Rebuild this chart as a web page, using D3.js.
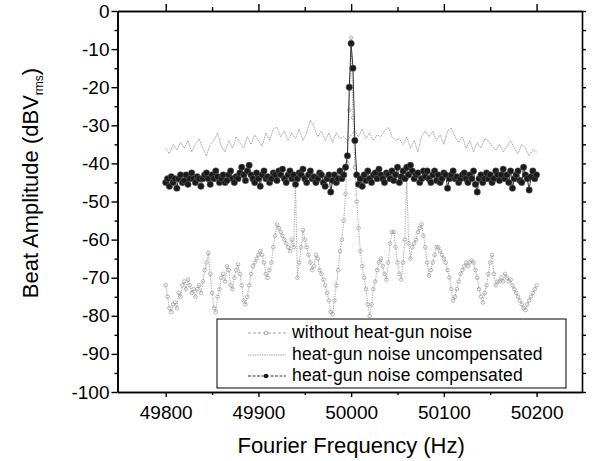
<!DOCTYPE html>
<html>
<head>
<meta charset="utf-8">
<script src="https://cdn.jsdelivr.net/npm/d3@7"></script>
<style>
  body { margin: 0; background: #fff; }
  svg { font-family: "Liberation Sans", Arial, sans-serif; }
</style>
</head>
<body>
<svg id="drawing_region"></svg>
<script>
// Fourier frequency grids (Hz)
const freqStart = 49800;
const fineStep = 2;    // grid for withoutNoise and compensated
const coarseStep = 4;  // grid for uncompensated

// without heat-gun noise (dBVrms), 49800..50200 step 2
const withoutNoise = [
  -72, -75, -78, -79, -77, -76.5, -78, -74, -75, -72,
  -71, -73, -70.5, -72, -74, -73, -75, -73, -72, -74,
  -71, -68, -66, -63.5, -69, -74, -78, -79, -75, -73,
  -70, -69, -71, -67, -68, -72, -73, -70, -68, -66.5,
  -69, -72, -76, -77, -75, -72, -69, -67, -66, -65,
  -64, -63, -64, -66, -69, -70, -68, -66, -62, -59,
  -56, -57, -58, -59, -60, -61, -62, -63, -60, -62,
  -45, -70, -66, -62, -57.5, -60, -62, -64, -66, -68,
  -67, -64, -65, -68, -69, -70.5, -72, -74, -76, -79,
  -79.5, -76, -72, -68, -63, -60, -55, -48, -40, -26,
  -7, -28, -41, -50, -57, -63, -67, -70, -73, -77,
  -80, -77, -73, -71, -68, -66, -65, -67, -69, -70.5,
  -66, -61, -58, -58, -62, -66, -69, -70.5, -66, -60,
  -44, -61, -65, -62, -61, -60, -58, -57, -56, -59,
  -62, -66, -69.5, -68, -66, -64, -62, -62, -63, -64,
  -65, -66, -68, -70, -73, -76, -75, -73, -71, -69,
  -68, -67, -66, -67, -66, -65.5, -66, -68, -70, -73,
  -75, -76.5, -74, -72, -69, -66, -64, -69, -72, -71,
  -71, -70, -71, -69, -70, -71, -70.5, -72, -73, -74,
  -75, -76, -77, -78, -78.5, -77, -76, -75, -74, -73,
  -72
];

// heat-gun noise uncompensated (dBVrms), 49800..50200 step 4
const uncompensated = [
  -36, -37.5, -35, -36.5, -34.5, -36, -34, -37, -35, -33.5,
  -36, -38, -35, -34, -32, -35.5, -37, -34, -36, -33,
  -34.5, -36, -33, -35, -32.5, -34, -35.5, -32, -34, -31,
  -30.5, -33, -31.5, -34, -32, -33.5, -31, -34, -32, -28.6,
  -30.5, -33, -31.5, -34, -32, -34.5, -32, -33.5, -33, -34,
  -32.5, -31.5, -33, -31, -33.5, -32, -34, -32.5, -33, -31.5,
  -30.5, -33, -34, -33.5, -35, -33, -36, -34, -37, -33,
  -31.5, -33, -31.5, -34, -32.5, -35, -31.5, -30.7, -33, -34.5,
  -33, -36, -34, -37, -34.5, -36, -33.5, -34, -35.5, -36.5,
  -35, -37, -35.5, -34, -36, -37.5, -35, -36, -38, -36.5,
  -37
];

// heat-gun noise compensated (dBVrms), 49800..50200 step 2
const compensated = [
  -45, -44, -46, -43.5, -45, -44, -46.5, -44, -43, -45,
  -44.5, -43, -45.5, -44, -42.5, -44, -45, -43.5, -44, -46,
  -44, -43, -42.5, -44, -45.5, -43, -44, -42, -43.5, -45,
  -44, -43, -45, -44.5, -43, -42, -44, -45, -43.5, -44,
  -42.5, -41, -43, -44.5, -42, -40.5, -43, -44, -45, -42.5,
  -44, -46, -43, -42, -44, -43.5, -45, -44, -42.5, -43,
  -44.5, -42, -43, -41.5, -44, -45, -43, -42, -44, -43,
  -45.5, -44, -42.5, -43, -41.5, -44, -45, -43, -42, -44,
  -43.5, -45, -44, -42.5, -43, -45, -46, -44, -43, -47.5,
  -44.5, -43, -45, -44, -42, -44, -43, -41, -38, -20,
  -8.5, -15, -34, -43, -45.5, -44, -46, -43, -44.5, -42,
  -44, -45, -43, -42.5, -44, -41.5, -43, -44, -45, -42.5,
  -43, -44, -42, -44.5, -43, -41, -45, -43.5, -42, -44,
  -41, -43, -40.5, -42, -44, -43, -42.5, -45, -44, -42,
  -43.5, -42, -44, -45, -43, -42, -44.5, -43, -45, -44,
  -42.5, -43, -46.5, -44, -43, -42, -44, -43.5, -45, -44,
  -43, -42.5, -44, -45, -43, -44, -42, -45.5, -47.5, -44,
  -43, -45, -44, -42.5, -44, -43, -45, -44, -42, -43,
  -44.5, -43, -41.5, -44, -43, -45, -42, -46.5, -44, -43,
  -42, -44.5, -45, -41, -43, -44, -47, -43.5, -42, -44,
  -43
];

const xTicks = [49800, 49900, 50000, 50100, 50200];
const xMinorTicks = [49850, 49950, 50050, 50150];
const yTicks = [0, -10, -20, -30, -40, -50, -60, -70, -80, -90, -100];
const yMinorTicks = [-5, -15, -25, -35, -45, -55, -65, -75, -85, -95];

const legendLabels = [
  'without heat-gun noise',
  'heat-gun noise uncompensated',
  'heat-gun noise compensated'
];

const config = {
  width: 597,
  height: 461,
  margin: {top: 11, right: 15, bottom: 69, left: 117.5}
};

const svg = d3.select('#drawing_region')
  .attr('width', config.width)
  .attr('height', config.height);

const inner_width = config.width - config.margin.left - config.margin.right;
const inner_height = config.height - config.margin.top - config.margin.bottom;

const chart = svg.append('g')
  .attr('transform', `translate(${config.margin.left}, ${config.margin.top})`);

const xscale = d3.scaleLinear()
  .domain([49748, 50249])
  .range([0, inner_width]);

const yscale = d3.scaleLinear()
  .domain([-100, 0])
  .range([inner_height, 0]);

const fine = withoutNoise.map((v, i) => ({f: freqStart + i * fineStep, v: v}));
const comp = compensated.map((v, i) => ({f: freqStart + i * fineStep, v: v}));
const uncomp = uncompensated.map((v, i) => ({f: freqStart + i * coarseStep, v: v}));

const line = d3.line()
  .x(d => xscale(d.f))
  .y(d => yscale(d.v));

// without heat-gun noise: dotted grey with open circles
chart.append('path')
  .datum(fine)
  .attr('fill', 'none')
  .attr('stroke', '#8a8a8a')
  .attr('stroke-width', 0.8)
  .attr('stroke-dasharray', '1.2,1.2')
  .attr('d', line);

chart.append('g')
  .selectAll('circle')
  .data(fine)
  .join('circle')
  .attr('cx', d => xscale(d.f))
  .attr('cy', d => yscale(d.v))
  .attr('r', 1.8)
  .attr('fill', 'none')
  .attr('stroke', '#8a8a8a')
  .attr('stroke-width', 0.6);

// uncompensated: thin light grey line
chart.append('path')
  .datum(uncomp)
  .attr('fill', 'none')
  .attr('stroke', '#8f8f8f')
  .attr('stroke-width', 0.8)
  .attr('stroke-dasharray', '1.5,0.8')
  .attr('d', line);

// compensated: black line with filled markers
chart.append('path')
  .datum(comp)
  .attr('fill', 'none')
  .attr('stroke', '#333')
  .attr('stroke-width', 1)
  .attr('d', line);

chart.append('g')
  .selectAll('circle')
  .data(comp)
  .join('circle')
  .attr('cx', d => xscale(d.f))
  .attr('cy', d => yscale(d.v))
  .attr('r', 3.2)
  .attr('fill', '#1a1a1a')
  .attr('stroke', '#666')
  .attr('stroke-width', 0.5);

// axes
const fmt = d => String(d);
const axisStyle = g => {
  g.selectAll('.domain').attr('stroke', '#000').attr('stroke-width', 1.6);
  g.selectAll('.tick line').attr('stroke', '#000').attr('stroke-width', 1.4);
  g.selectAll('text').attr('fill', '#000');
};

chart.append('g')
  .attr('transform', `translate(0, ${inner_height})`)
  .call(d3.axisBottom(xscale).tickValues(xTicks).tickFormat(fmt).tickSize(5).tickPadding(9).tickSizeOuter(0))
  .call(axisStyle)
  .call(g => g.selectAll('text').style('font-size', '19px'));

chart.append('g')
  .attr('transform', `translate(0, ${inner_height})`)
  .call(d3.axisBottom(xscale).tickValues(xMinorTicks).tickSize(3).tickFormat('').tickSizeOuter(0))
  .call(axisStyle);

chart.append('g')
  .call(d3.axisTop(xscale).tickValues(xTicks).tickSize(7).tickFormat('').tickSizeOuter(0))
  .call(axisStyle);

chart.append('g')
  .call(d3.axisTop(xscale).tickValues(xMinorTicks).tickSize(4).tickFormat('').tickSizeOuter(0))
  .call(axisStyle);

chart.append('g')
  .call(d3.axisLeft(yscale).tickValues(yTicks).tickFormat(fmt).tickSize(6).tickPadding(2).tickSizeOuter(0))
  .call(axisStyle)
  .call(g => g.selectAll('text').style('font-size', '19px'));

chart.append('g')
  .call(d3.axisLeft(yscale).tickValues(yMinorTicks).tickSize(3).tickFormat('').tickSizeOuter(0))
  .call(axisStyle);

chart.append('g')
  .attr('transform', `translate(${inner_width}, 0)`)
  .call(d3.axisRight(yscale).tickValues(yTicks.concat(yMinorTicks)).tickSize(4).tickFormat('').tickSizeOuter(0))
  .call(axisStyle);

// legend
const legend = chart.append('g')
  .attr('transform', `translate(${217 - config.margin.left}, ${319 - config.margin.top})`);

legend.append('rect')
  .attr('width', 349)
  .attr('height', 69)
  .attr('fill', '#fff')
  .attr('stroke', '#000')
  .attr('stroke-width', 1);

const rowY = [14, 36, 57];
legendLabels.forEach((label, i) => {
  const row = legend.append('g').attr('transform', `translate(0, ${rowY[i]})`);
  const sample = row.append('line')
    .attr('x1', 31).attr('x2', 69).attr('y1', 0).attr('y2', 0);
  if (i === 0) {
    sample.attr('stroke', '#8a8a8a').attr('stroke-width', 0.8).attr('stroke-dasharray', '3,2');
    row.append('circle').attr('cx', 49).attr('cy', 0).attr('r', 1.8)
      .attr('fill', '#fff').attr('stroke', '#8a8a8a').attr('stroke-width', 0.7);
  } else if (i === 1) {
    sample.attr('stroke', '#8f8f8f').attr('stroke-width', 0.8).attr('stroke-dasharray', '1.5,0.8');
  } else {
    sample.attr('stroke', '#333').attr('stroke-width', 1).attr('stroke-dasharray', '3,1.5');
    row.append('circle').attr('cx', 49).attr('cy', 0).attr('r', 2.3).attr('fill', '#1a1a1a');
  }
  row.append('text')
    .attr('x', 75)
    .attr('y', 5)
    .style('font-size', '17.5px')
    .style('letter-spacing', '0.2px')
    .text(label);
});

// axis titles
svg.append('text')
  .attr('x', config.margin.left + xscale(50000))
  .attr('y', 453)
  .attr('text-anchor', 'middle')
  .style('font-size', '22px')
  .text('Fourier Frequency (Hz)');

const ytitle = svg.append('text')
  .attr('transform', 'translate(38, 183) rotate(-90)')
  .attr('text-anchor', 'middle')
  .style('font-size', '22px');
ytitle.append('tspan').text('Beat Amplitude (dBV');
ytitle.append('tspan').attr('dy', 5).style('font-size', '12px').text('rms');
ytitle.append('tspan').attr('dy', -5).text(')');
</script>
</body>
</html>
